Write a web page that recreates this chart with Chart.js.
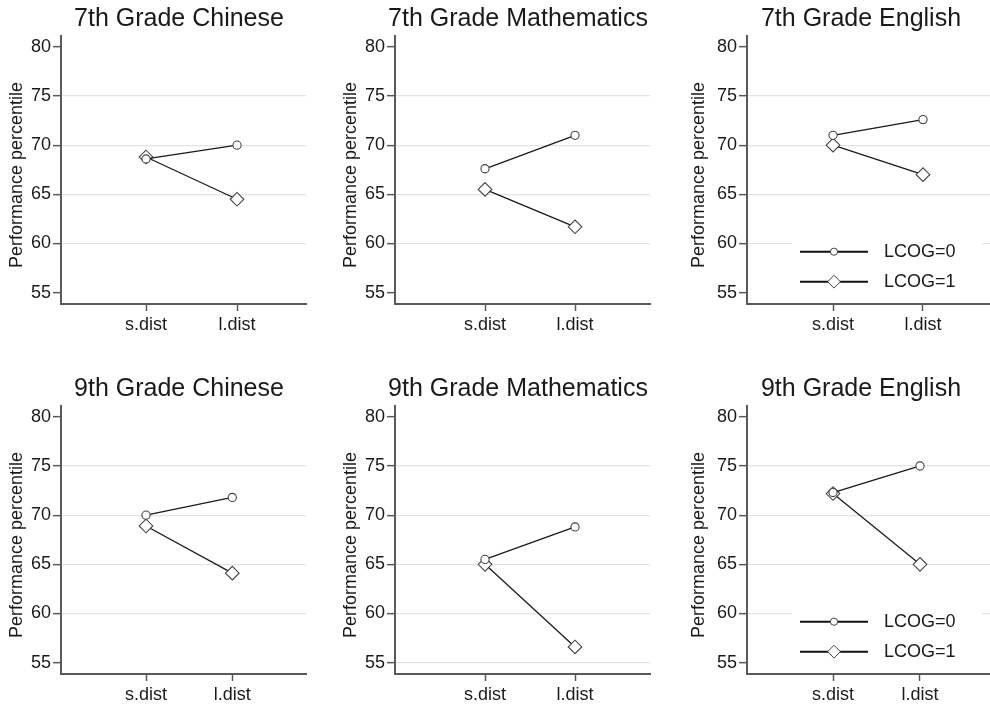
<!DOCTYPE html>
<html><head><meta charset="utf-8">
<script src="https://cdn.jsdelivr.net/npm/chart.js@4.4.1/dist/chart.umd.min.js"></script>
<style>
html,body{margin:0;padding:0;background:#fff;overflow:hidden;width:990px;height:708px;position:relative;}
canvas{position:absolute;}
</style></head><body>
<script>
// ---- data ----
const categories = ['s.dist', 'l.dist'];
const seriesNames = ['LCOG=0', 'LCOG=1'];
const yTicks = [55, 60, 65, 70, 75, 80];
const yAxisTitle = 'Performance percentile';
const panelTitles = ['7th Grade Chinese', '7th Grade Mathematics', '7th Grade English',
                     '9th Grade Chinese', '9th Grade Mathematics', '9th Grade English'];
// values at [s.dist, l.dist]
const chinese7_lcog0 = [68.6, 70.0];
const chinese7_lcog1 = [68.8, 64.5];
const math7_lcog0    = [67.6, 71.0];
const math7_lcog1    = [65.5, 61.7];
const english7_lcog0 = [71.0, 72.6];
const english7_lcog1 = [70.0, 67.0];
const chinese9_lcog0 = [70.0, 71.8];
const chinese9_lcog1 = [68.9, 64.1];
const math9_lcog0    = [65.5, 68.8];
const math9_lcog1    = [65.0, 56.6];
const english9_lcog0 = [72.3, 75.0];
const english9_lcog1 = [72.2, 65.0];
const xPos = [1, 2];

// ---- layout (per panel) ----
const FONT = "'Liberation Sans', Arial, Helvetica, sans-serif";
Chart.defaults.font.family = FONT;
Chart.defaults.color = '#1a1a1a';
const TXT = '#1a1a1a';
const AXIS = '#5a5a5a';
const GRID = '#e3e3e3';

const panels = [
  {d0: chinese7_lcog0, d1: chinese7_lcog1, L: 0,   T: 0,   W: 358, rW: 52, xmin: 0.066, xmax: 2.758, ytp: 6.7, grid55: false, legend: false},
  {d0: math7_lcog0,    d1: math7_lcog1,    L: 334, T: 0,   W: 368, rW: 52, xmin: 0.0,   xmax: 2.833, ytp: 6.0, grid55: false, legend: false},
  {d0: english7_lcog0, d1: english7_lcog1, L: 686, T: 0,   W: 350, rW: 44, xmin: 0.044, xmax: 2.767, ytp: 2.4, grid55: false, legend: true},
  {d0: chinese9_lcog0, d1: chinese9_lcog1, L: 0,   T: 370, W: 358, rW: 52, xmin: 0.015, xmax: 2.854, ytp: 6.7, grid55: false, legend: false},
  {d0: math9_lcog0,    d1: math9_lcog1,    L: 334, T: 370, W: 368, rW: 52, xmin: 0.0,   xmax: 2.833, ytp: 6.0, grid55: true,  legend: false},
  {d0: english9_lcog0, d1: english9_lcog1, L: 686, T: 370, W: 350, rW: 44, xmin: 0.011, xmax: 2.828, ytp: 2.4, grid55: false, legend: true}
];

const styles = [
  {pointStyle: 'circle', radius: 4.1},
  {pointStyle: 'rectRot', radius: 6.8}
];

const legendPlugin = {
  id: 'lcogLegend',
  afterDraw(chart, args, opts) {
    if (!opts.show) return;
    const ctx = chart.ctx, a = chart.chartArea;
    ctx.save();
    ctx.fillStyle = '#fff';
    ctx.fillRect(a.left + 45, a.bottom - 72, 190, 70);
    seriesNames.forEach((name, i) => {
      const y = a.bottom - 52.3 + i * 30;
      ctx.strokeStyle = '#111';
      ctx.lineWidth = 2;
      ctx.beginPath();
      ctx.moveTo(a.left + 53, y);
      ctx.lineTo(a.left + 121, y);
      ctx.stroke();
      ctx.fillStyle = '#fff';
      ctx.strokeStyle = '#444';
      ctx.lineWidth = 1;
      Chart.helpers.drawPoint(ctx, {pointStyle: styles[i].pointStyle, radius: i === 0 ? 3.6 : 6.4, borderWidth: 1, rotation: 0}, a.left + 87, y);
      ctx.fillStyle = TXT;
      ctx.font = '18px ' + FONT;
      ctx.textAlign = 'left';
      ctx.textBaseline = 'middle';
      ctx.fillText(name, a.left + 137, y);
    });
    ctx.restore();
  }
};

panels.forEach((p, k) => {
  const c = document.createElement('canvas');
  c.width = p.W; c.height = 338;
  c.style.left = p.L + 'px'; c.style.top = p.T + 'px';
  document.body.appendChild(c);
  const mk = (vals) => vals.map((v, i) => ({x: xPos[i], y: v}));
  const ds = [p.d0, p.d1].map((vals, i) => ({
    label: seriesNames[i],
    data: mk(vals),
    borderColor: '#1a1a1a',
    borderWidth: 1.3,
    pointStyle: styles[i].pointStyle,
    pointRadius: styles[i].radius,
    pointBorderColor: '#444',
    pointBackgroundColor: '#fff',
    pointBorderWidth: 1.1,
    tension: 0,
    fill: false
  }));
  new Chart(c, {
    type: 'line',
    data: {datasets: ds},
    options: {
      responsive: false,
      animation: false,
      events: [],
      layout: {padding: 0},
      plugins: {
        legend: {display: false},
        tooltip: {enabled: false},
        title: {display: true, text: panelTitles[k], color: TXT,
                font: {size: 25, weight: 'normal'}, padding: {top: 4, bottom: 2}},
        lcogLegend: {show: p.legend}
      },
      scales: {
        x: {
          type: 'linear', position: 'bottom', min: p.xmin, max: p.xmax,
          afterBuildTicks: (s) => { s.ticks = xPos.map(v => ({value: v})); },
          afterFit: (s) => { s.height = 34; },
          ticks: {callback: (v, i) => categories[i], font: {size: 18}, color: TXT, padding: 3, maxRotation: 0, autoSkip: false},
          grid: {drawOnChartArea: false, drawTicks: true, tickLength: 7, tickColor: AXIS, tickWidth: 1.5},
          border: {display: true, color: AXIS, width: 2}
        },
        y: {
          type: 'linear', position: 'left', min: 53.85, max: 81.1,
          afterBuildTicks: (s) => { s.ticks = yTicks.map(v => ({value: v})); },
          afterFit: (s) => { s.width = 61; },
          ticks: {font: {size: 18}, color: TXT, padding: 2, autoSkip: false},
          grid: {
            color: (ctx) => {
              const v = ctx.tick ? ctx.tick.value : null;
              if (v === 80 || (v === 55 && !p.grid55)) return 'rgba(0,0,0,0)';
              return GRID;
            },
            lineWidth: 1.3, drawTicks: true, tickLength: 8, tickColor: AXIS, tickWidth: 1.5
          },
          border: {display: true, color: AXIS, width: 2},
          title: {display: true, text: yAxisTitle + '  ', font: {size: 18}, color: TXT, padding: {top: p.ytp, bottom: 0}}
        },
        y2: {
          type: 'linear', position: 'right', display: true,
          afterFit: (s) => { s.width = p.rW; },
          ticks: {display: false},
          grid: {display: false, drawTicks: false},
          border: {display: false}
        }
      }
    },
    plugins: [legendPlugin]
  });
});
</script>
</body></html>
